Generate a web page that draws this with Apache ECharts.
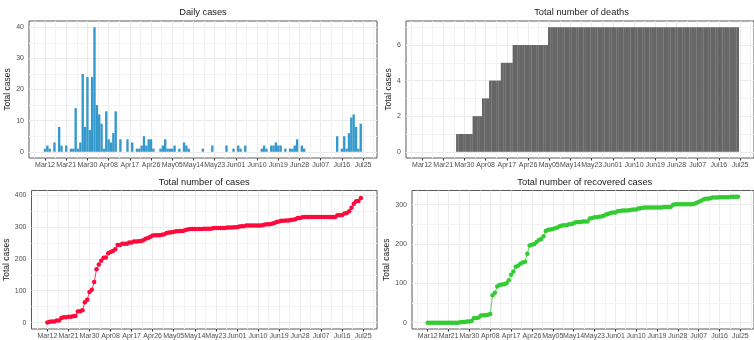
<!DOCTYPE html>
<html>
<head>
<meta charset="utf-8">
<script src="https://cdn.jsdelivr.net/npm/echarts@6/dist/echarts.min.js"></script>
<style>
  html, body { margin: 0; padding: 0; background: #ffffff; }
  #chart { width: 754px; height: 340px; }
</style>
</head>
<body>
<div id="chart"></div>
<script>
// Day 0 is Mar 12; every series holds one value per day up to Jul 24.
const tickDays = [0, 9, 18, 27, 36, 45, 54, 63, 72, 81, 90, 99, 108, 117, 126, 135];
const tickLabels = ['Mar12', 'Mar21', 'Mar30', 'Apr08', 'Apr17', 'Apr26', 'May05', 'May14',
                    'May23', 'Jun01', 'Jun10', 'Jun19', 'Jun28', 'Jul07', 'Jul16', 'Jul25'];
const minorDays = [-4.5, 4.5, 13.5, 22.5, 31.5, 40.5, 49.5, 58.5, 67.5, 76.5, 85.5, 94.5,
                   103.5, 112.5, 121.5, 130.5, 139.5];

const dailyCases = [
  1, 2, 1, 0, 3, 0, 8, 2, 0, 2,
  0, 1, 1, 14, 1, 3, 25, 8, 24, 7,
  24, 40, 15, 12, 9, 1, 13, 4, 3, 6,
  13, 0, 4, 0, 0, 4, 0, 3, 0, 1,
  1, 2, 5, 2, 4, 4, 1, 0, 0, 1,
  2, 4, 1, 1, 1, 2, 0, 1, 0, 3,
  2, 1, 0, 0, 0, 0, 0, 1, 0, 0,
  0, 2, 0, 0, 0, 0, 0, 2, 0, 0,
  1, 0, 2, 1, 0, 2, 0, 0, 0, 0,
  0, 0, 1, 2, 1, 0, 2, 2, 3, 2,
  2, 0, 1, 0, 1, 1, 2, 4, 0, 2,
  1, 0, 0, 0, 0, 0, 0, 0, 0, 0,
  0, 0, 0, 0, 5, 0, 1, 5, 1, 6,
  11, 12, 8, 1, 9
];

const totalDeaths = [
  0, 0, 0, 0, 0, 0, 0, 0, 0, 0,
  0, 0, 0, 0, 0, 1, 1, 1, 1, 1,
  1, 1, 2, 2, 2, 2, 3, 3, 3, 4,
  4, 4, 4, 4, 5, 5, 5, 5, 5, 6,
  6, 6, 6, 6, 6, 6, 6, 6, 6, 6,
  6, 6, 6, 6, 7, 7, 7, 7, 7, 7,
  7, 7, 7, 7, 7, 7, 7, 7, 7, 7,
  7, 7, 7, 7, 7, 7, 7, 7, 7, 7,
  7, 7, 7, 7, 7, 7, 7, 7, 7, 7,
  7, 7, 7, 7, 7, 7, 7, 7, 7, 7,
  7, 7, 7, 7, 7, 7, 7, 7, 7, 7,
  7, 7, 7, 7, 7, 7, 7, 7, 7, 7,
  7, 7, 7, 7, 7, 7, 7, 7, 7, 7,
  7, 7, 7, 7, 7
];

const totalCases = [
  1, 3, 4, 4, 7, 7, 15, 17, 17, 19,
  19, 20, 21, 35, 36, 39, 64, 72, 96, 103,
  127, 167, 182, 194, 203, 204, 217, 221, 224, 230,
  243, 243, 247, 247, 247, 251, 251, 254, 254, 255,
  256, 258, 263, 265, 269, 273, 274, 274, 274, 275,
  277, 281, 282, 283, 284, 286, 286, 287, 287, 290,
  292, 293, 293, 293, 293, 293, 293, 294, 294, 294,
  294, 296, 296, 296, 296, 296, 296, 298, 298, 298,
  299, 299, 301, 302, 302, 304, 304, 304, 304, 304,
  304, 304, 305, 307, 308, 308, 310, 312, 315, 317,
  319, 319, 320, 320, 321, 322, 324, 328, 328, 330,
  331, 331, 331, 331, 331, 331, 331, 331, 331, 331,
  331, 331, 331, 331, 336, 336, 337, 342, 343, 349,
  360, 372, 380, 381, 390
];

const totalRecovered = [
  0, 0, 0, 0, 0, 0, 0, 0, 0, 0,
  0, 0, 0, 0, 1, 2, 2, 3, 3, 5,
  12, 12, 13, 18, 19, 19, 20, 22, 70, 76,
  92, 96, 97, 98, 100, 108, 122, 130, 142, 145,
  150, 153, 155, 175, 196, 198, 200, 205, 210, 213,
  220, 233, 236, 237, 238, 240, 242, 245, 247, 248,
  248, 250, 251, 253, 255, 256, 256, 257, 257, 257,
  265, 266, 268, 268, 269, 270, 272, 275, 277, 279,
  280, 280, 283, 284, 285, 285, 285, 286, 287, 288,
  288, 290, 291, 292, 293, 293, 293, 293, 293, 293,
  293, 293, 294, 294, 294, 295, 300, 301, 301, 301,
  301, 301, 301, 301, 301, 302, 305, 307, 310, 313,
  315, 315, 316, 318, 318, 318, 319, 319, 319, 319,
  319, 320, 320, 320, 320
];

const FONT = '"Liberation Sans", Arial, Helvetica, sans-serif';
const X_MIN = -6.8, X_MAX = 140.9;

const panels = [
  { title: 'Daily cases', left: 29, top: 21, width: 348, height: 137,
    yMin: -2, yMax: 42, yMajor: [0, 10, 20, 30, 40], yMinor: [5, 15, 25, 35], nameGap: 11,
    kind: 'bar', values: dailyCases, color: '#3399CC', barScale: 1.0 },
  { title: 'Total number of deaths', left: 406, top: 21, width: 351, height: 137,
    yMin: -0.35, yMax: 7.35, yMajor: [0, 2, 4, 6], yMinor: [1, 3, 5, 7], nameGap: 6,
    kind: 'bar', values: totalDeaths, color: '#666666', barScale: 1.08 },
  { title: 'Total number of cases', left: 31.5, top: 190.5, width: 345.5, height: 138.8,
    yMin: -19.7, yMax: 413.7, yMajor: [0, 100, 200, 300, 400], yMinor: [50, 150, 250, 350], nameGap: 14,
    kind: 'line', values: totalCases, color: '#FF0A3C' },
  { title: 'Total number of recovered cases', left: 412, top: 190.5, width: 345.6, height: 138.8,
    yMin: -16, yMax: 336, yMajor: [0, 100, 200, 300], yMinor: [50, 150, 250], nameGap: 14,
    kind: 'line', values: totalRecovered, color: '#33CC33' }
];

const grid = [], xAxis = [], yAxis = [], series = [], title = [];

panels.forEach((p, i) => {
  grid.push({
    left: p.left, top: p.top, width: p.width, height: p.height,
    show: true, backgroundColor: '#ffffff', borderColor: '#5a5a5a', borderWidth: 1
  });
  title.push({
    text: p.title, left: p.left + p.width / 2, top: p.top - 13, textAlign: 'center', padding: 0,
    textStyle: { fontFamily: FONT, fontSize: 9.3, fontWeight: 'normal', color: '#1a1a1a' }
  });
  xAxis.push({
    type: 'value', gridIndex: i, min: X_MIN, max: X_MAX, position: 'bottom',
    axisLine: { show: false, onZero: false },
    axisTick: { show: true, length: 2.5, customValues: tickDays, lineStyle: { color: '#333333', width: 1 } },
    axisLabel: { show: true, customValues: tickDays, margin: 4, fontFamily: FONT, fontSize: 7, color: '#4d4d4d',
                 formatter: v => tickLabels[tickDays.indexOf(v)] },
    splitLine: { show: true, lineStyle: { color: '#ebebeb', width: 1 } }
  });
  yAxis.push({
    type: 'value', gridIndex: i, min: p.yMin, max: p.yMax, position: 'left',
    name: 'Total cases', nameLocation: 'middle', nameGap: p.nameGap,
    nameTextStyle: { fontFamily: FONT, fontSize: 8.5, color: '#1a1a1a' },
    axisLine: { show: false, onZero: false },
    axisTick: { show: false, customValues: p.yMajor },
    axisLabel: { show: true, customValues: p.yMajor, margin: 5, fontFamily: FONT, fontSize: 7, color: '#4d4d4d' },
    splitLine: { show: true, lineStyle: { color: '#ebebeb', width: 1 } }
  });

  // minor gridlines halfway between the major breaks, kept under the marks
  const minorLines = {
    silent: true, symbol: 'none', z: 1, animation: false,
    label: { show: false }, emphasis: { disabled: true },
    lineStyle: { color: '#f3f3f3', width: 1, type: 'solid' },
    data: minorDays.map(d => ({ xAxis: d })).concat(p.yMinor.map(v => ({ yAxis: v })))
  };

  const data = p.values.map((v, d) => [d, v]);
  const pxPerDay = p.width / (X_MAX - X_MIN);
  if (p.kind === 'bar') {
    series.push({
      type: 'bar', xAxisIndex: i, yAxisIndex: i, data: data.filter(pt => pt[1] > 0),
      barWidth: pxPerDay * p.barScale, z: 2,
      itemStyle: { color: p.color }, silent: true, markLine: minorLines
    });
  } else {
    series.push({
      type: 'line', xAxisIndex: i, yAxisIndex: i, data: data, z: 2,
      symbol: 'circle', symbolSize: 4.5, showAllSymbol: true,
      lineStyle: { color: p.color, width: 0.8 }, itemStyle: { color: p.color }, silent: true,
      markLine: minorLines
    });
  }
});

const chart = echarts.init(document.getElementById('chart'), null, { renderer: 'canvas' });
chart.setOption({
  animation: false,
  backgroundColor: '#ffffff',
  title, grid, xAxis, yAxis, series
});
</script>
</body>
</html>
